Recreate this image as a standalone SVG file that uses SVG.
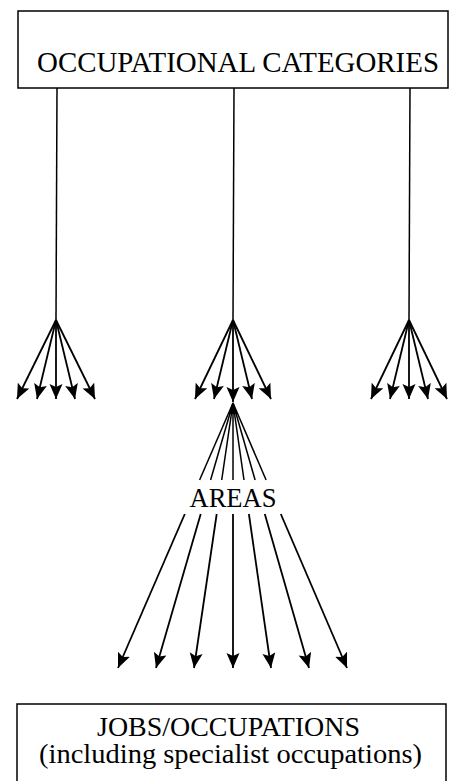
<svg xmlns="http://www.w3.org/2000/svg" width="450" height="781" viewBox="0 0 450 781">
<style>
.box{fill:#fff;stroke:#000;stroke-width:1.5}
.lbl{font-family:"Liberation Serif","Times New Roman",serif;font-size:27px;fill:#000}
.ln{stroke:#000;stroke-width:1.5;fill:none}
.ar{stroke:#000;stroke-width:1.8;fill:none;marker-end:url(#ah)}
</style>
<defs>
<marker id="ah" markerUnits="userSpaceOnUse" markerWidth="16" markerHeight="14" refX="15" refY="6.5" orient="auto" viewBox="0 0 16 14">
<path d="M0,0 L15,6.5 L0,13 L3,6.5 z" fill="#000"/>
</marker>
</defs>
<rect width="450" height="781" fill="#fff"/>
<g id="occupational-categories">
<rect class="box" x="18" y="11" width="430" height="77"/>
<text class="lbl" x="37" y="72" style="font-size:29px" textLength="402" lengthAdjust="spacingAndGlyphs">OCCUPATIONAL CATEGORIES</text>
</g>
<g id="areas">
<text class="lbl" x="233" y="507" text-anchor="middle" textLength="87" lengthAdjust="spacingAndGlyphs">AREAS</text>
</g>
<g id="jobs-occupations">
<rect class="box" x="17" y="704" width="429" height="90"/>
<text class="lbl" x="97" y="736" textLength="263" lengthAdjust="spacingAndGlyphs">JOBS/OCCUPATIONS</text>
<text class="lbl" x="39" y="763" textLength="383" lengthAdjust="spacingAndGlyphs">(including specialist occupations)</text>
</g>
<g id="connectors">
<line class="ln" x1="57" y1="88" x2="56" y2="321"/>
<line class="ln" x1="234" y1="88" x2="233" y2="321"/>
<line class="ln" x1="410" y1="88" x2="409" y2="321"/>
<line class="ar" x1="56" y1="320" x2="17" y2="399"/>
<line class="ar" x1="56" y1="320" x2="37" y2="399"/>
<line class="ar" x1="56" y1="320" x2="56" y2="399"/>
<line class="ar" x1="56" y1="320" x2="75" y2="399"/>
<line class="ar" x1="56" y1="320" x2="95" y2="399"/>
<line class="ar" x1="233" y1="320" x2="195" y2="399"/>
<line class="ar" x1="233" y1="320" x2="214" y2="399"/>
<line class="ar" x1="233" y1="320" x2="233" y2="402"/>
<line class="ar" x1="233" y1="320" x2="252" y2="399"/>
<line class="ar" x1="233" y1="320" x2="271" y2="399"/>
<line class="ar" x1="409" y1="320" x2="371" y2="399"/>
<line class="ar" x1="409" y1="320" x2="390" y2="399"/>
<line class="ar" x1="409" y1="320" x2="409" y2="399"/>
<line class="ar" x1="409" y1="320" x2="428" y2="399"/>
<line class="ar" x1="409" y1="320" x2="447" y2="399"/>
<path d="M233,402 L228.5,414 L237.5,414 z" fill="#000"/>
<line class="ln" x1="233" y1="403" x2="199.6" y2="480"/>
<line class="ln" x1="233" y1="403" x2="210.6" y2="480"/>
<line class="ln" x1="233" y1="403" x2="221.7" y2="480"/>
<line class="ln" x1="233" y1="403" x2="233" y2="480"/>
<line class="ln" x1="233" y1="403" x2="244.0" y2="480"/>
<line class="ln" x1="233" y1="403" x2="255.1" y2="480"/>
<line class="ln" x1="233" y1="403" x2="266.1" y2="480"/>
<line class="ar" x1="184.8" y1="514" x2="118" y2="668"/>
<line class="ar" x1="200.7" y1="514" x2="156" y2="668"/>
<line class="ar" x1="216.7" y1="514" x2="194" y2="668"/>
<line class="ar" x1="233" y1="514" x2="233" y2="668"/>
<line class="ar" x1="248.9" y1="514" x2="271" y2="668"/>
<line class="ar" x1="264.8" y1="514" x2="309" y2="668"/>
<line class="ar" x1="280.8" y1="514" x2="347" y2="668"/>
</g>
</svg>
